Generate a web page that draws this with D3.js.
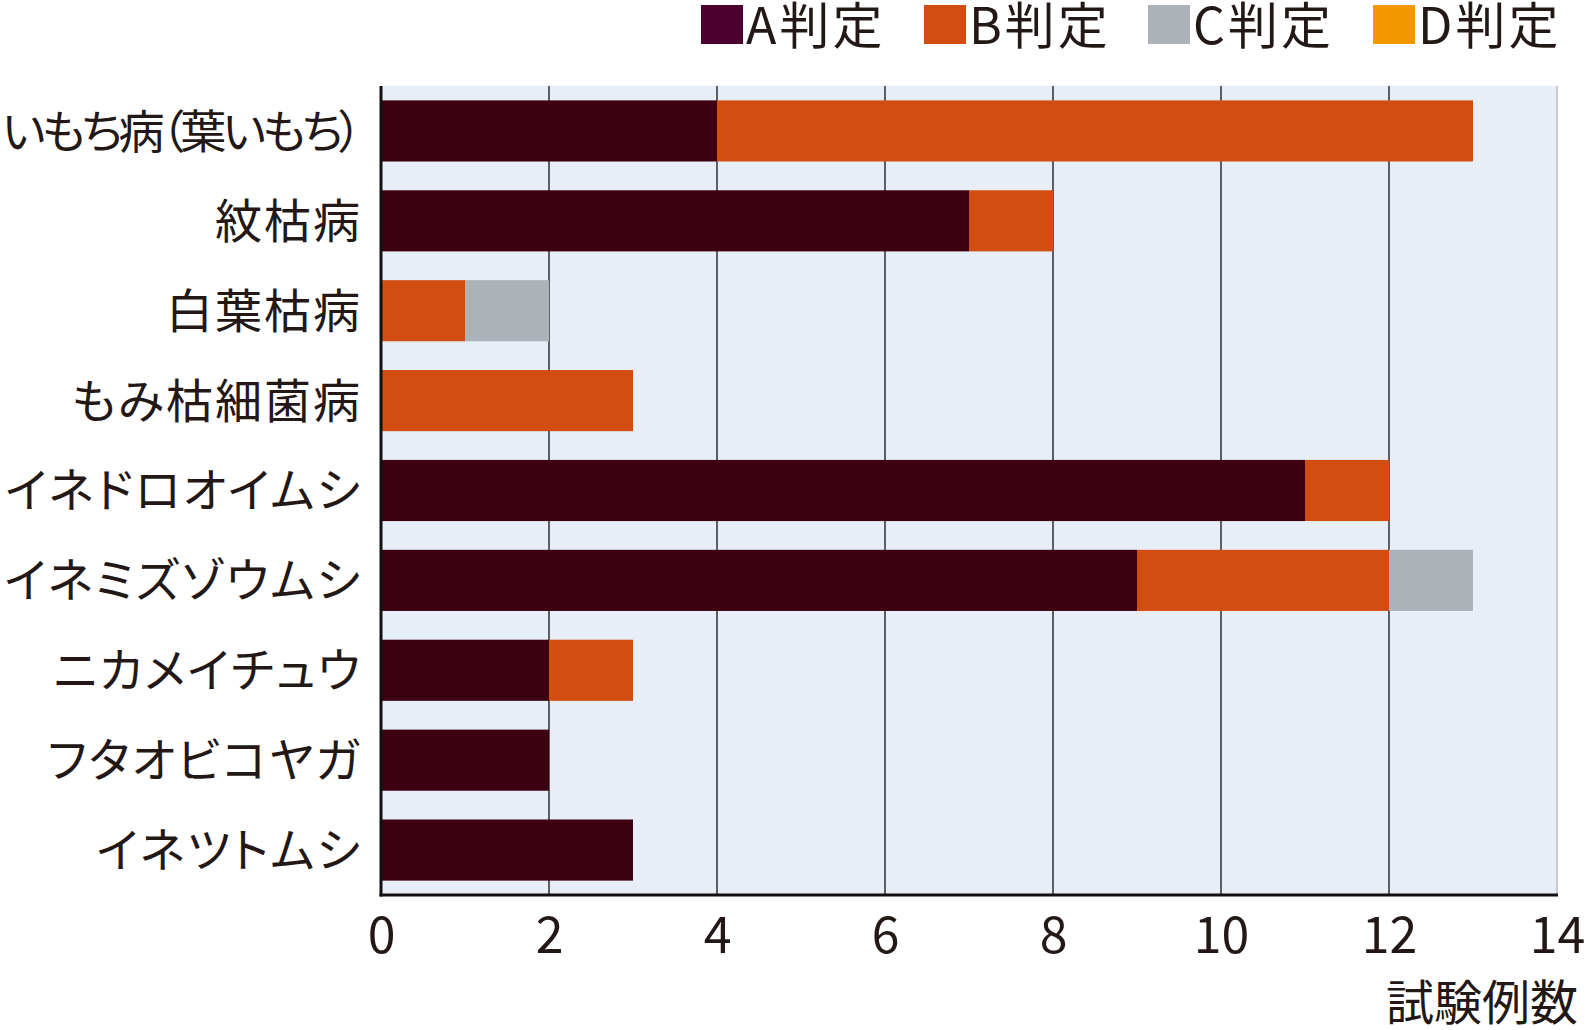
<!DOCTYPE html>
<html><head><meta charset="utf-8">
<script src="https://cdn.jsdelivr.net/npm/d3@7"></script>
<style>
html,body{margin:0;padding:0;background:#fff;}
svg text{font-family:"Noto Sans CJK JP","Noto Sans",sans-serif;fill:#231815;font-feature-settings:"palt";}
</style></head>
<body><svg id="c" width="1589" height="1030"></svg>
<script>
const categories = ["いもち病（葉いもち）","紋枯病","白葉枯病","もみ枯細菌病","イネドロオイムシ","イネミズゾウムシ","ニカメイチュウ","フタオビコヤガ","イネツトムシ"];
const seriesNames = ["A判定","B判定","C判定","D判定"];
const valuesA = [4,7,0,0,11,9,2,2,3];
const valuesB = [9,1,1,3,1,3,1,0,0];
const valuesC = [0,0,1,0,0,1,0,0,0];
const valuesD = [0,0,0,0,0,0,0,0,0];
const xTicks = [0,2,4,6,8,10,12,14];
const axisTitle = "試験例数";

const barColors = ["#3c0010","#d14d11","#adb1b8","#f39800"];
const legendColors = ["#4b0030","#d14d11","#adb1b8","#f39800"];

const svg = d3.select("#c");
const m = {left:381, right:1557, top:86, bottom:895};

const x = d3.scaleLinear().domain([0,14]).range([m.left,m.right]);
const y = d3.scaleBand().domain(categories).range([m.top,m.bottom]).paddingInner(0.32).paddingOuter(0.16);

// background
svg.append("rect").attr("x",m.left).attr("y",m.top).attr("width",m.right-m.left).attr("height",m.bottom-m.top).attr("fill","#e8eef8");
svg.append("line").attr("x1",m.right).attr("x2",m.right).attr("y1",m.top).attr("y2",m.bottom).attr("stroke","#9aa0a8").attr("stroke-width",1);

// grid
svg.append("g").selectAll("line").data(xTicks.slice(1,-1)).join("line")
  .attr("x1",d=>x(d)).attr("x2",d=>x(d)).attr("y1",m.top).attr("y2",m.bottom)
  .attr("stroke","#111").attr("stroke-width",1.3);

// stacked data
const rows = categories.map((c,i)=>({cat:c, "A判定":valuesA[i], "B判定":valuesB[i], "C判定":valuesC[i], "D判定":valuesD[i]}));
const stack = d3.stack().keys(seriesNames)(rows);
svg.append("g").selectAll("g").data(stack).join("g")
  .attr("fill",(d,i)=>barColors[i])
  .selectAll("rect").data(d=>d.filter(s=>s[1]>s[0])).join("rect")
  .attr("x",d=>x(d[0])).attr("width",d=>x(d[1])-x(d[0]))
  .attr("y",d=>y(d.data.cat)).attr("height",y.bandwidth());

// axes lines
svg.append("line").attr("x1",m.left).attr("x2",m.left).attr("y1",m.top).attr("y2",m.bottom+1.5).attr("stroke","#111").attr("stroke-width",3);
svg.append("line").attr("x1",m.left-1.5).attr("x2",m.right+1).attr("y1",m.bottom).attr("y2",m.bottom).attr("stroke","#111").attr("stroke-width",3);

// x tick labels
const xAxis = d3.axisBottom(x).tickValues(xTicks).tickSize(0).tickPadding(0).tickFormat(d3.format("d"));
const gx = svg.append("g").attr("transform",`translate(0,${m.bottom})`).call(xAxis);
gx.select(".domain").remove();
gx.selectAll("text").attr("dy",null).attr("y",58).attr("font-size",50).style("font-family","'Noto Sans CJK JP'").attr("fill","#231815");

// category labels
const yAxis = d3.axisLeft(y).tickSize(0).tickPadding(0);
const gy = svg.append("g").attr("transform",`translate(360,0)`).call(yAxis);
gy.select(".domain").remove();
gy.selectAll("text").attr("dy","0.36em").attr("fill","#231815")
  .style("letter-spacing",(d,i)=>i===0?null:"2px")
  .attr("font-size",(d,i)=>i===0?46:47)
  .attr("dx",(d,i)=>i===0?"2":"2");
gy.selectAll("text").filter((d,i)=>i===0)
  .attr("textLength",360).attr("lengthAdjust","spacing");

// axis title
svg.append("text").attr("x",1578).attr("y",1020).attr("text-anchor","end").attr("font-size",48).text(axisTitle);

// legend
const legX = [701,924,1148,1373];
const lg = svg.append("g").selectAll("g").data(seriesNames).join("g")
  .attr("transform",(d,i)=>`translate(${legX[i]},0)`);
lg.append("rect").attr("x",0).attr("y",5).attr("width",42).attr("height",39).attr("fill",(d,i)=>legendColors[i]);
lg.append("text").attr("x",45).attr("y",44).attr("font-size",50).style("letter-spacing","3px").text(d=>d);
</script></body></html>
